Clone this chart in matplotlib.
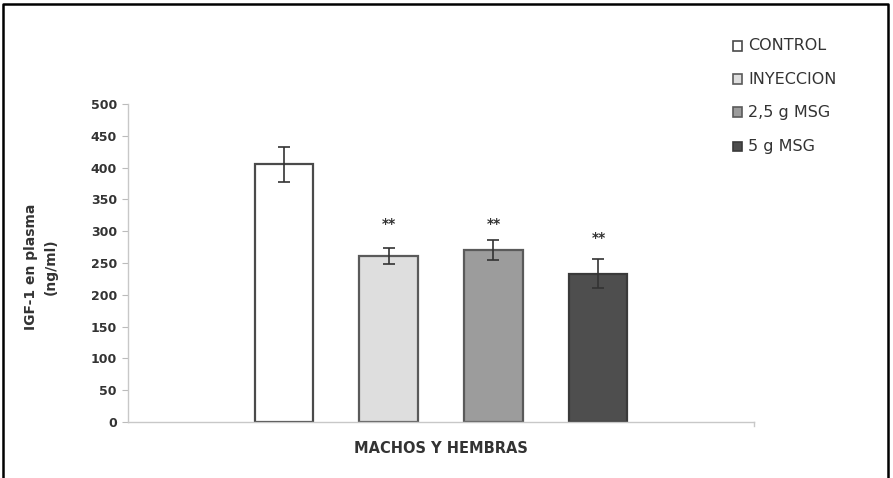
import matplotlib
matplotlib.use("Agg")
import matplotlib.pyplot as plt
from matplotlib.patches import Rectangle
from matplotlib.lines import Line2D

plt.rcParams['font.family'] = ['DejaVu Sans']

# Data
groups = ["CONTROL", "INYECCION", "2,5 g MSG", "5 g MSG"]
means = [405, 261, 270, 233]
errors = [27, 13, 16, 23]
signif = ["", "**", "**", "**"]
category = "MACHOS Y HEMBRAS"
yticks = [0, 50, 100, 150, 200, 250, 300, 350, 400, 450, 500]

colors = ["#ffffff", "#dedede", "#9c9c9c", "#4e4e4e"]
edges = ["#4a4a4a", "#5a5a5a", "#5a5a5a", "#3a3a3a"]
text_color = "#333333"

W, H = 893, 478
fig = plt.figure(figsize=(W / 100, H / 100), dpi=100)
ax = fig.add_axes([128 / W, 1 - 422 / H, (754 - 128) / W, (422 - 104) / H])

spacing = 0.1677
width = 0.0927
offsets = [(i - 1.5) * spacing for i in range(len(groups))]
star_pads = [0, 24, 16, 21]

for i, (g, m, e) in enumerate(zip(groups, means, errors)):
    x = offsets[i]
    ax.bar(x, m, width=width, color=colors[i], edgecolor=edges[i], linewidth=1.6, zorder=2)
    ax.errorbar(x, m, yerr=e, fmt="none", ecolor="#333333", elinewidth=1.2,
                capsize=4, capthick=1.2, zorder=3)
    if signif[i]:
        ax.annotate(signif[i], (x, m + e), xytext=(0, star_pads[i]), textcoords="offset pixels",
                    ha="center", va="center", fontsize=10, fontweight="bold", color=text_color)

ax.set_xlim(-0.5, 0.5)
ax.set_ylim(0, 500)
ax.set_yticks(yticks)
ax.set_yticklabels([str(t) for t in yticks], fontsize=9, fontweight="bold", color=text_color)
ax.set_xticks([])
ax.tick_params(axis="y", length=4, width=0.8, color="#bbbbbb", pad=4)
for s in ["top", "right"]:
    ax.spines[s].set_visible(False)
for s in ["left", "bottom"]:
    ax.spines[s].set_color("#c8c8c8")
    ax.spines[s].set_linewidth(1.0)
ax.plot([0.5, 0.5], [0, -0.012], transform=ax.get_xaxis_transform(), color="#c8c8c8",
        lw=1.0, clip_on=False)

ax.set_xlabel(category, fontsize=10.5, fontweight="bold", color=text_color, labelpad=14)
fig.text(41 / W, 1 - 267 / H, "IGF-1 en plasma\n(ng/ml)", rotation=90, ha="center",
         va="center", fontsize=10, fontweight="bold", color=text_color, linespacing=1.55)

# Legend
legend_y = [46, 79, 112, 146]
for i, g in enumerate(groups):
    y = 1 - legend_y[i] / H
    fig.patches.append(Rectangle((733 / W, y - 4.5 / H), 9 / W, 9 / H, transform=fig.transFigure,
                                 facecolor=colors[i], edgecolor=edges[i], linewidth=1.2))
    fig.text(748 / W, y, g, ha="left", va="center", fontsize=11.5, color=text_color)

# Frame around the figure
frame = [(3, H + 5), (3, 4), (888, 4), (888, H + 5)]
fig.add_artist(Line2D([p[0] / W for p in frame], [1 - p[1] / H for p in frame],
                      transform=fig.transFigure, color="black", lw=1.8))

fig.savefig("out.png", dpi=100, facecolor="white")
